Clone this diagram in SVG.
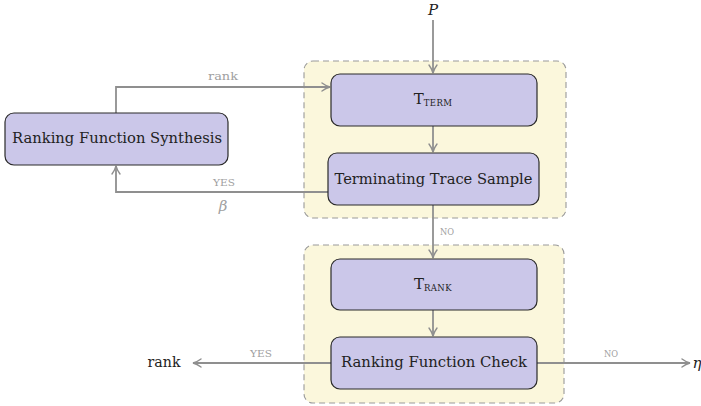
<svg xmlns="http://www.w3.org/2000/svg" width="701" height="406" viewBox="0 0 701 406">
  <defs>
    <marker id="arrow" viewBox="0 0 10 10" refX="9" refY="5" markerWidth="10" markerHeight="10" markerUnits="userSpaceOnUse" orient="auto">
      <path d="M1,1 Q5,4 9,5 Q5,6 1,9" fill="none" stroke="#8f8f8f" stroke-width="1.4" stroke-linecap="round"/>
    </marker>
  </defs>
  <style>
    .group { fill: #fbf7dc; stroke: #9a9a9a; stroke-width: 1.1; stroke-dasharray: 6 4; }
    .box { fill: #cbc7e9; stroke: #2a2a2a; stroke-width: 1.2; }
    .lbl { font-family: "DejaVu Serif", serif; font-size: 14px; fill: #222; text-anchor: middle; }
    .big { font-size: 15px; }
    .sub { font-size: 8.5px; letter-spacing: 0.4px; }
    .edge { fill: none; stroke: #8f8f8f; stroke-width: 1.8; }
    .tag { font-family: "DejaVu Serif", serif; font-size: 8.5px; fill: #a0a0a0; text-anchor: middle; }
    .tagword { font-family: "DejaVu Serif", serif; font-size: 11.5px; fill: #a0a0a0; text-anchor: middle; }
    .math { font-family: "DejaVu Serif", serif; font-style: italic; font-size: 15px; text-anchor: middle; }
  </style>

  <!-- dashed stage containers -->
  <g id="stage-term">
    <rect class="group" x="304" y="61" width="262" height="157" rx="9"/>
  </g>
  <g id="stage-rank">
    <rect class="group" x="304" y="245" width="260" height="158" rx="9"/>
  </g>

  <!-- connectors -->
  <g id="connectors">
    <path class="edge" d="M433,20 V73" marker-end="url(#arrow)"/>
    <path class="edge" d="M433,126 V152" marker-end="url(#arrow)"/>
    <path class="edge" d="M433,205 V258" marker-end="url(#arrow)"/>
    <path class="edge" d="M433,310 V336" marker-end="url(#arrow)"/>
    <path class="edge" d="M116,113 V87 H330" marker-end="url(#arrow)"/>
    <path class="edge" d="M328,192 H116 V166" marker-end="url(#arrow)"/>
    <path class="edge" d="M331,363 H193" marker-end="url(#arrow)"/>
    <path class="edge" d="M537,363 H690" marker-end="url(#arrow)"/>
    <text class="tagword" x="223" y="80" textLength="30" lengthAdjust="spacingAndGlyphs">rank</text>
    <text class="tag" x="224" y="186" textLength="22" lengthAdjust="spacingAndGlyphs">YES</text>
    <text class="math" x="223" y="211" fill="#a0a0a0">β</text>
    <text class="tag" x="447" y="235" textLength="14" lengthAdjust="spacingAndGlyphs">NO</text>
    <text class="tag" x="261" y="357" textLength="22" lengthAdjust="spacingAndGlyphs">YES</text>
    <text class="tag" x="611" y="357" textLength="14" lengthAdjust="spacingAndGlyphs">NO</text>
  </g>

  <!-- nodes -->
  <g id="input-p">
    <text class="math" x="433" y="15" fill="#222">P</text>
  </g>
  <g id="t-term">
    <rect class="box" x="331" y="74" width="206" height="52" rx="9"/>
    <text class="lbl big" x="433" y="104">T<tspan class="sub" dy="2">TERM</tspan></text>
  </g>
  <g id="trace-sample">
    <rect class="box" x="328" y="153" width="211" height="52" rx="9"/>
    <text class="lbl" x="433.5" y="184" textLength="198" lengthAdjust="spacingAndGlyphs">Terminating Trace Sample</text>
  </g>
  <g id="rf-synthesis">
    <rect class="box" x="5" y="113" width="223" height="52" rx="9"/>
    <text class="lbl" x="117" y="143" textLength="210" lengthAdjust="spacingAndGlyphs">Ranking Function Synthesis</text>
  </g>
  <g id="t-rank">
    <rect class="box" x="331" y="259" width="206" height="51" rx="9"/>
    <text class="lbl big" x="433" y="289">T<tspan class="sub" dy="2">RANK</tspan></text>
  </g>
  <g id="rf-check">
    <rect class="box" x="331" y="337" width="206" height="52" rx="9"/>
    <text class="lbl" x="434" y="367" textLength="186" lengthAdjust="spacingAndGlyphs">Ranking Function Check</text>
  </g>
  <g id="out-rank">
    <text class="lbl" x="164" y="367" textLength="33" lengthAdjust="spacingAndGlyphs">rank</text>
  </g>
  <g id="out-eta">
    <text class="math" x="697" y="368" fill="#222">η</text>
  </g>
</svg>
